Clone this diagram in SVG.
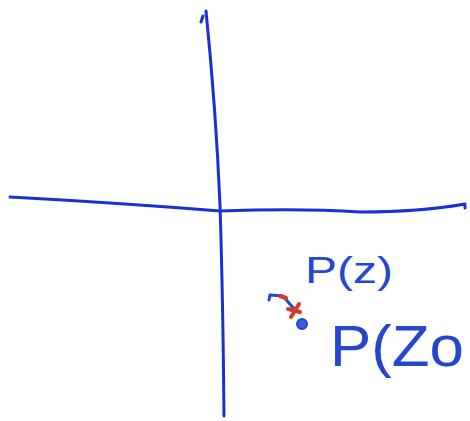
<svg xmlns="http://www.w3.org/2000/svg" width="470" height="421" viewBox="0 0 470 421">
<style>
.ax{fill:none;stroke:#1a2fd6;stroke-width:3;stroke-linecap:round;stroke-linejoin:round}
.b{fill:none;stroke:#2446cc;stroke-width:3;stroke-linecap:round;stroke-linejoin:round}
.r{fill:none;stroke:#d23a2a;stroke-width:4;stroke-linecap:round}
.t{fill:#2446d0;font-family:"Liberation Sans",Arial,sans-serif}
</style>
<rect width="470" height="421" fill="#fff"/>
<g id="axes">
<path class="ax" d="M206,11 Q216,110 220,205 Q223,300 224,416"/>
<path class="ax" d="M203,16 L201,22"/>
<path class="ax" d="M10,197 Q120,203 220,211 Q300,208 360,212 Q420,212 465,204 L465,208"/>
</g>
<g id="point">
<path class="b" d="M269,300 L270,295 L283,296 L295,310"/>
<circle cx="302" cy="324" r="5" fill="#3a5ad8" stroke="#2446cc" stroke-width="2"/>
<path class="r" d="M280,296 L286,298"/>
<path class="r" d="M291,317 L299,304"/>
<path class="r" d="M288,309 L300,312"/>
</g>
<text class="t" x="305" y="283" font-size="36" textLength="88" lengthAdjust="spacingAndGlyphs">P(z)</text>
<text class="t" x="330" y="366" font-size="58" textLength="134" lengthAdjust="spacingAndGlyphs">P(Zo</text>
</svg>
